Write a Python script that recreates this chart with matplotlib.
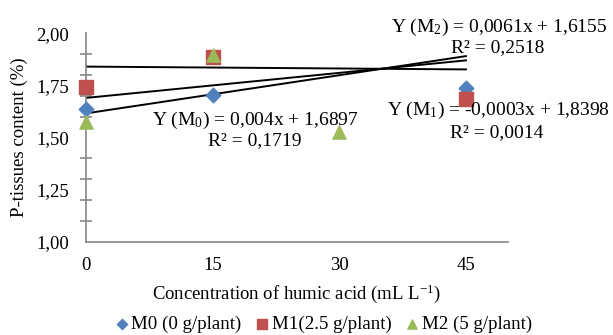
import matplotlib
matplotlib.use("Agg")
from matplotlib import pyplot as plt
from matplotlib.ticker import FixedLocator, FuncFormatter
import numpy as np

plt.rcParams['font.family'] = ['Liberation Serif', 'DejaVu Serif']
plt.rcParams['mathtext.fontset'] = 'custom'
plt.rcParams['mathtext.rm'] = 'Liberation Serif'
plt.rcParams['mathtext.it'] = 'Liberation Serif:italic'

# visible data points (mL/L humic acid -> P content %)
x_m0 = [0, 15, 45]
y_m0 = [1.635, 1.704, 1.735]
x_m1 = [0, 15, 45]
y_m1 = [1.744, 1.886, 1.685]
x_m2 = [0, 15, 30]
y_m2 = [1.575, 1.893, 1.525]

# trendline coefficients as printed on the chart
slopes = [0.004, -0.0003, 0.0061]
intercepts = [1.6897, 1.8398, 1.6155]
line_x = np.array([0, 45])

blue = '#4F81BD'
red = '#C0504D'
green = '#9BBB59'
grey = '#868686'

fig = plt.figure(figsize=(6.13, 3.35), dpi=100)
ax = fig.add_axes([0.140, 0.278, 0.689, 0.623])

for m, b in zip(slopes, intercepts):
    ax.plot(line_x, m * line_x + b, color='black', lw=1.4, zorder=2)

ax.scatter(x_m0, y_m0, marker='D', s=55, color=blue, label='M0 (0 g/plant)', zorder=3, clip_on=False)
ax.scatter(x_m1, y_m1, marker='s', s=110, color=red, label='M1(2.5 g/plant)', zorder=4, clip_on=False)
ax.scatter(x_m2, y_m2, marker='^', s=90, color=green, label='M2 (5 g/plant)', zorder=5, clip_on=False)

ax.set_xlim(0, 50)
ax.set_ylim(1.0, 2.0)
ax.set_xticks([0, 15, 30, 45])
ax.tick_params(axis='x', length=0, labelsize=13.5, pad=11)
ax.yaxis.set_major_locator(FixedLocator([1.0, 1.25, 1.5, 1.75, 2.0]))
ax.yaxis.set_major_formatter(FuncFormatter(lambda v, p: f'{v:.2f}'.replace('.', ',')))
ax.tick_params(axis='y', which='major', length=0, labelsize=13.5, pad=12)
ax.yaxis.set_minor_locator(FixedLocator(np.arange(1.0, 2.01, 0.1)))
ax.tick_params(axis='y', which='minor', direction='inout', length=8, width=1.2, color=grey)

for s in ['top', 'right']:
    ax.spines[s].set_visible(False)
for s in ['left', 'bottom']:
    ax.spines[s].set_color(grey)
    ax.spines[s].set_linewidth(1.2)
ax.patch.set_alpha(0)

ax.set_ylabel('P-tissues content (%)', fontsize=13.5, labelpad=6)
ax.set_xlabel('Concentration of humic acid (mL L$^{-1}$)', fontsize=13.5, labelpad=6)

fs = 14
fig.text(499 / 613, 1 - 27 / 335, 'Y (M$_2$) = 0,0061x + 1,6155', ha='center', va='center', fontsize=fs)
fig.text(498 / 613, 1 - 48 / 335, 'R² = 0,2518', ha='center', va='center', fontsize=fs)
fig.text(498 / 613, 1 - 110 / 335, 'Y (M$_1$) = -0,0003x + 1,8398', ha='center', va='center', fontsize=fs)
fig.text(497 / 613, 1 - 133 / 335, 'R² = 0,0014', ha='center', va='center', fontsize=fs)
fig.text(255 / 613, 1 - 120 / 335, 'Y (M$_0$) = 0,004x + 1,6897', ha='center', va='center', fontsize=fs)
fig.text(255 / 613, 1 - 141 / 335, 'R² = 0,1719', ha='center', va='center', fontsize=fs)

fig.legend(loc='center', bbox_to_anchor=(322 / 613, 1 - 324 / 335), ncol=3, frameon=False,
           fontsize=13.6, handletextpad=0.0, columnspacing=0.6, markerscale=0.7,
           handlelength=1.0, borderaxespad=0)

fig.savefig('out.png', dpi=100)
